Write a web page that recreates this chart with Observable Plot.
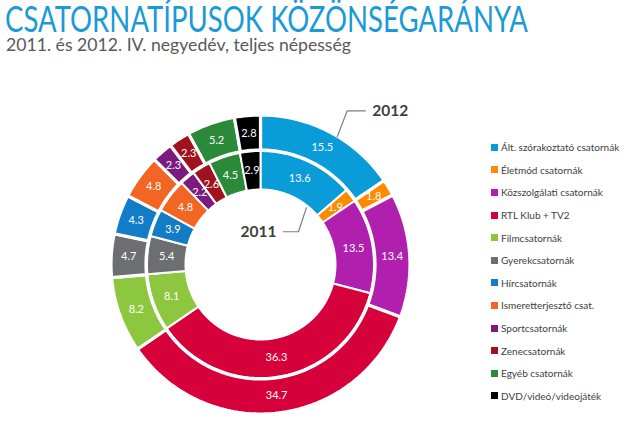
<!DOCTYPE html>
<html>
<head>
<meta charset="utf-8">
<script src="https://cdn.jsdelivr.net/npm/d3@7"></script>
<script src="https://cdn.jsdelivr.net/npm/@observablehq/plot@0.6"></script>
<style>
  html, body { margin: 0; padding: 0; background: #fff; }
  body { width: 640px; height: 422px; position: relative; overflow: hidden; font-family: Lato, "Open Sans", sans-serif; }
  #title { position: absolute; left: 5px; top: 2px; font-size: 36px; line-height: 32px; color: #1a9ad6; white-space: nowrap; transform-origin: left top; transform: scaleX(0.765); }
  #subtitle { position: absolute; left: 6px; top: 36px; font-size: 18px; line-height: 16px; color: #595959; white-space: nowrap; transform-origin: left top; transform: scaleX(0.98); }
  #chart { position: absolute; left: 0; top: 52px; }
  #legend { position: absolute; left: 491px; top: 136px; }
  .li { height: 22.6px; display: flex; align-items: center; font-size: 10px; color: #404040; white-space: nowrap; }
  .sw { width: 7px; height: 7px; margin-right: 3px; flex: none; }
</style>
</head>
<body>
<div id="title">CSATORNATÍPUSOK KÖZÖNSÉGARÁNYA</div>
<div id="subtitle">2011. és 2012. IV. negyedév, teljes népesség</div>
<div id="chart"></div>
<div id="legend"></div>
<script>
const categories = ["Ált. szórakoztató csatornák","Életmód csatornák","Közszolgálati csatornák","RTL Klub + TV2","Filmcsatornák","Gyerekcsatornák","Hírcsatornák","Ismeretterjesztő csat.","Sportcsatornák","Zenecsatornák","Egyéb csatornák","DVD/videó/videojáték"];
const colors = ["#0a9cd8","#ff8a00","#b01fad","#d6003a","#8dc63f","#6d6e71","#137cc6","#f26522","#7d1a7d","#a0121e","#2a8a3a","#000000"];
const values2011 = [13.6,1.9,13.5,36.3,8.1,5.4,3.9,4.8,2.2,2.6,4.5,2.9];
const values2012 = [15.5,1.8,13.4,34.7,8.2,4.7,4.3,4.8,2.3,2.3,5.2,2.8];
const rings = [
  {year: "2011", values: values2011, r0: 75, r1: 113.5, gap: 2},
  {year: "2012", values: values2012, r0: 114.5, r1: 149.5, gap: 3}
];
// annotation anchors (angle in degrees clockwise from 12 o'clock, radius)
const annotations = [
  {label: "2012", angle: 31, r: 149, bend: [10, 26], run: 18, side: 1},
  {label: "2011", angle: 39, r: 73, bend: [-8, -24], run: -15, side: -1}
];

const pie = d3.pie().sort(null).startAngle(0).endAngle(2 * Math.PI);
const polys = [], labels = [];
for (const ring of rings) {
  const arcs = pie(ring.values);
  arcs.forEach((a, i) => {
    const key = ring.year + "-" + i;
    const n = Math.max(4, Math.ceil((a.endAngle - a.startAngle) * 40));
    const pts = [];
    for (let k = 0; k <= n; k++) {
      const t = a.startAngle + (a.endAngle - a.startAngle) * k / n;
      pts.push([ring.r1 * Math.sin(t), ring.r1 * Math.cos(t)]);
    }
    for (let k = n; k >= 0; k--) {
      const t = a.startAngle + (a.endAngle - a.startAngle) * k / n;
      pts.push([ring.r0 * Math.sin(t), ring.r0 * Math.cos(t)]);
    }
    pts.push(pts[0]);
    pts.forEach(p => polys.push({key, cat: categories[i], x: p[0], y: p[1], gap: ring.gap}));
    const mid = (a.startAngle + a.endAngle) / 2, rm = (ring.r0 + ring.r1) / 2;
    labels.push({x: rm * Math.sin(mid), y: rm * Math.cos(mid), text: String(ring.values[i].toFixed(1))});
  });
}

const leaderPts = [], annTexts = [];
annotations.forEach(a => {
  const t = a.angle * Math.PI / 180;
  const p0 = [a.r * Math.sin(t), a.r * Math.cos(t)];
  const p1 = [p0[0] + a.bend[0], p0[1] + a.bend[1]];
  const p2 = [p1[0] + a.run, p1[1]];
  [p0, p1, p2].forEach(p => leaderPts.push({key: a.label, x: p[0], y: p[1]}));
  annTexts.push({x: p2[0] + a.side * 7, y: p2[1], text: a.label, side: a.side});
});

const chart = Plot.plot({
  width: 640, height: 370, margin: 0,
  x: {domain: [-260, 380], axis: null},
  y: {domain: [-158, 212], axis: null},
  color: {domain: categories, range: colors},
  marks: [
    Plot.line(polys.filter(d => d.gap === 2), {x: "x", y: "y", z: "key", fill: "cat", stroke: "white", strokeWidth: 2, curve: "linear"}),
    Plot.line(polys.filter(d => d.gap === 3), {x: "x", y: "y", z: "key", fill: "cat", stroke: "white", strokeWidth: 3.2, curve: "linear"}),
    Plot.text(labels, {x: "x", y: "y", text: "text", fill: "white", fontSize: 11, fontFamily: "Lato"}),
    Plot.line(leaderPts, {x: "x", y: "y", z: "key", stroke: "#7f7f7f", strokeWidth: 1.2}),
    Plot.text(annTexts.filter(d => d.side > 0), {x: "x", y: "y", text: "text", textAnchor: "start", fill: "#404040", fontSize: 15.5, fontWeight: "bold", fontFamily: "Lato"}),
    Plot.text(annTexts.filter(d => d.side < 0), {x: "x", y: "y", text: "text", textAnchor: "end", fill: "#404040", fontSize: 15.5, fontWeight: "bold", fontFamily: "Lato"})
  ]
});
document.getElementById("chart").appendChild(chart);

const legend = document.getElementById("legend");
categories.forEach((c, i) => {
  const row = document.createElement("div");
  row.className = "li";
  const sw = document.createElement("span");
  sw.className = "sw";
  sw.style.background = colors[i];
  const tx = document.createElement("span");
  tx.textContent = c;
  row.appendChild(sw); row.appendChild(tx);
  legend.appendChild(row);
});
</script>
</body>
</html>
